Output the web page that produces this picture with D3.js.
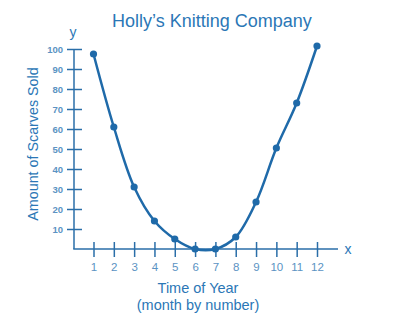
<!DOCTYPE html>
<html>
<head>
<meta charset="utf-8">
<script src="https://cdn.jsdelivr.net/npm/d3@7"></script>
<style>
  body { margin: 0; background: #fff; }
  text { font-family: "Liberation Sans", Arial, sans-serif; }
</style>
</head>
<body>
<svg id="chart" width="400" height="326"></svg>
<script>
"use strict"

// data
const months = [1, 2, 3, 4, 5, 6, 7, 8, 9, 10, 11, 12];
const scarves = [97.5, 61, 31, 14, 5, 0, 0, 6, 23.5, 50.5, 73, 101.5];
const yTicks = [10, 20, 30, 40, 50, 60, 70, 80, 90, 100];

const lineColor = "#1f6aa9";
const axisColor = "#2a6ea8";
const labelColor = "#5b93c3";
const titleColor = "#2b77b6";

const svg = d3.select("#chart");

// scales
const x = d3.scaleLinear().domain([1, 12]).range([93.5, 317]);
const y = d3.scaleLinear().domain([0, 100]).range([249, 49]);

// title
svg.append("text")
  .attr("x", 212).attr("y", 27)
  .attr("text-anchor", "middle")
  .style("font-size", "18px")
  .style("fill", titleColor)
  .text("Holly\u2019s Knitting Company");

// y axis
const yAxis = svg.append("g")
  .attr("transform", "translate(74,0)")
  .call(d3.axisLeft(y).tickValues(yTicks).tickSizeOuter(0));
yAxis.select(".domain").remove();
yAxis.selectAll(".tick line")
  .attr("x1", -7).attr("x2", 8)
  .attr("stroke", axisColor).attr("stroke-width", 1.5);
yAxis.selectAll(".tick text")
  .attr("x", -11)
  .style("font-size", "9.5px")
  .style("font-weight", "bold")
  .style("fill", labelColor);

svg.append("line")
  .attr("x1", 74).attr("x2", 74)
  .attr("y1", y(100)).attr("y2", y(0))
  .attr("stroke", axisColor).attr("stroke-width", 1.5);

// x axis
const xAxis = svg.append("g")
  .attr("transform", `translate(0,${y(0)})`)
  .call(d3.axisBottom(x).tickValues(months).tickFormat(d3.format("d")).tickSizeOuter(0));
xAxis.select(".domain").remove();
xAxis.selectAll(".tick line")
  .attr("y1", -7).attr("y2", 8)
  .attr("stroke", axisColor).attr("stroke-width", 1.5);
xAxis.selectAll(".tick text")
  .attr("y", 14)
  .style("font-size", "11.5px")
  .style("fill", labelColor);

svg.append("line")
  .attr("x1", 73.25).attr("x2", 338)
  .attr("y1", y(0)).attr("y2", y(0))
  .attr("stroke", axisColor).attr("stroke-width", 1.5);

// axis letters
svg.append("text")
  .attr("x", 73).attr("y", 36.5)
  .attr("text-anchor", "middle")
  .style("font-size", "14px")
  .style("fill", titleColor)
  .text("y");

svg.append("text")
  .attr("x", 348).attr("y", 253.5)
  .attr("text-anchor", "middle")
  .style("font-size", "14px")
  .style("fill", titleColor)
  .text("x");

// axis titles
svg.append("text")
  .attr("transform", "translate(38,144) rotate(-90)")
  .attr("text-anchor", "middle")
  .style("font-size", "14.3px")
  .style("fill", titleColor)
  .text("Amount of Scarves Sold");

svg.append("text")
  .attr("x", 198).attr("y", 293)
  .attr("text-anchor", "middle")
  .style("font-size", "14.5px")
  .style("fill", titleColor)
  .text("Time of Year");

svg.append("text")
  .attr("x", 198).attr("y", 309.5)
  .attr("text-anchor", "middle")
  .style("font-size", "14.5px")
  .style("fill", titleColor)
  .text("(month by number)");

// curve
const data = months.map((m, i) => ({m: m, v: scarves[i]}));

const line = d3.line()
  .x(d => x(d.m))
  .y(d => y(d.v))
  .curve(d3.curveCatmullRom.alpha(0.5));

svg.append("path")
  .datum(data)
  .attr("fill", "none")
  .attr("stroke", lineColor)
  .attr("stroke-width", 2.5)
  .attr("d", line);

svg.selectAll(".pt")
  .data(data)
  .enter().append("circle")
    .attr("class", "pt")
    .attr("cx", d => x(d.m))
    .attr("cy", d => y(d.v))
    .attr("r", 3.6)
    .attr("fill", lineColor);
</script>
</body>
</html>
